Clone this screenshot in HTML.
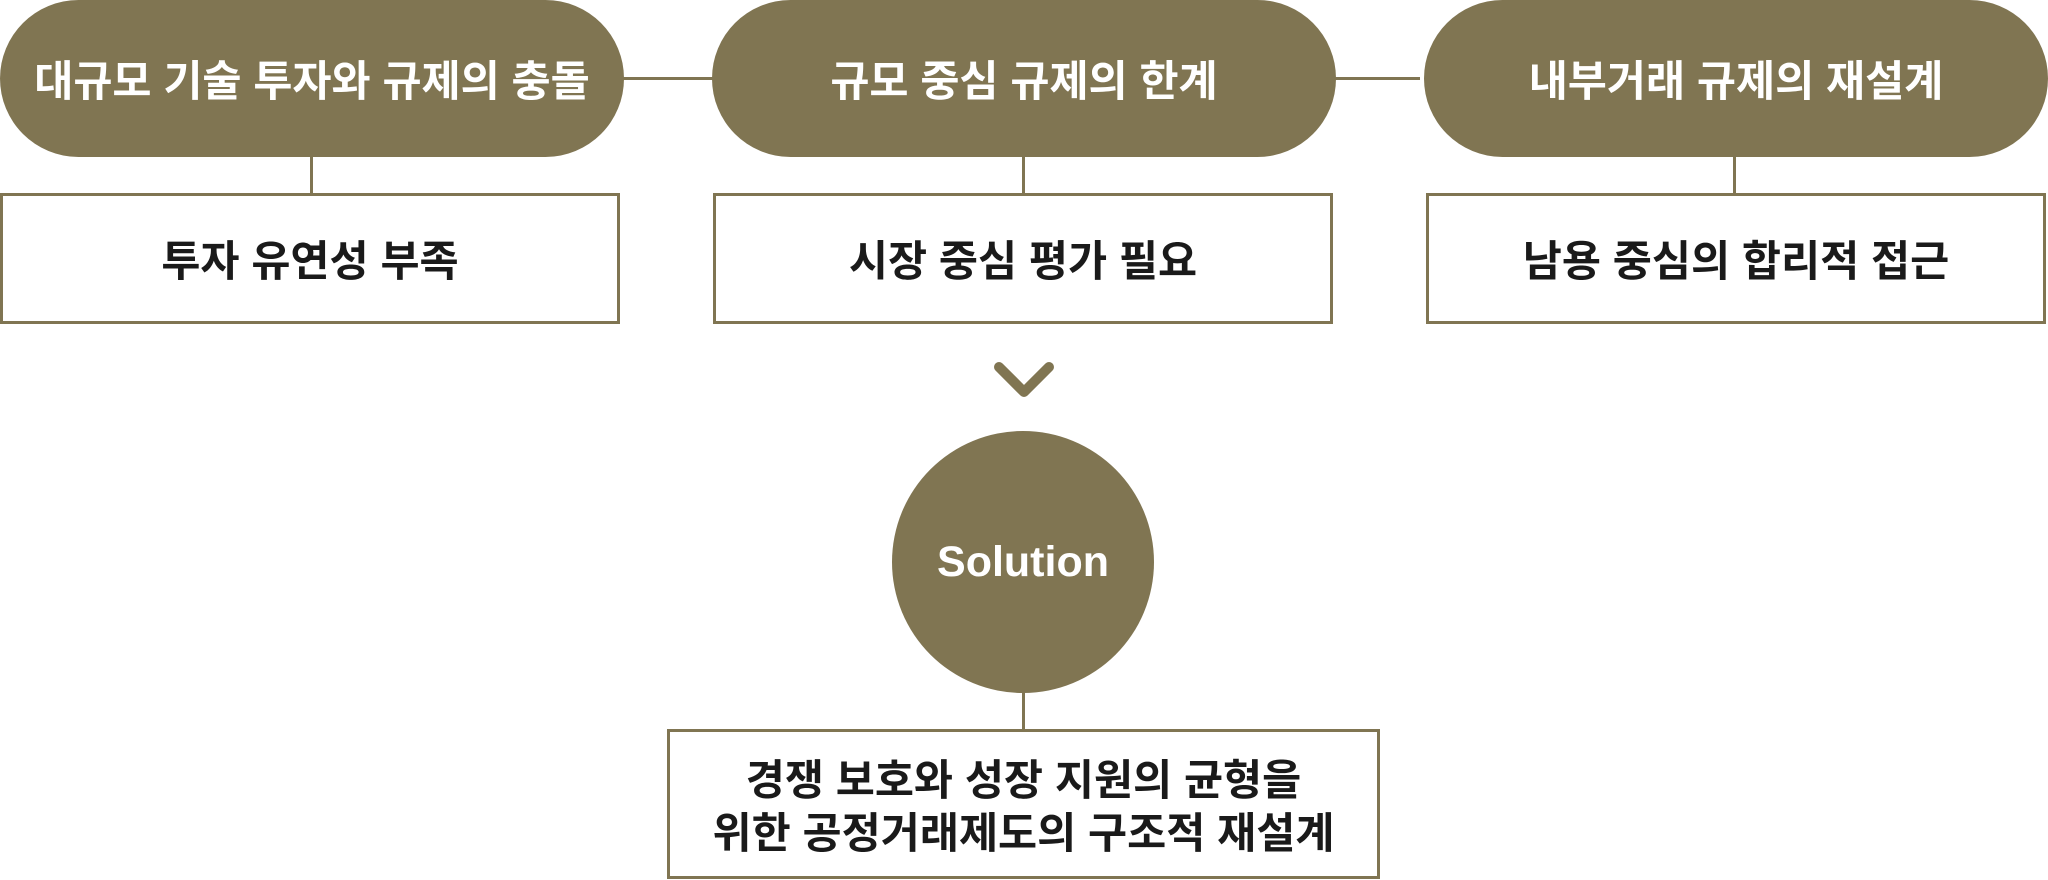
<!DOCTYPE html>
<html><head><meta charset="utf-8"><style>
body{margin:0;width:2048px;height:880px;background:#fff;position:relative;overflow:hidden;font-family:"Liberation Sans","Noto Sans CJK KR",sans-serif;font-weight:bold}
.pill{position:absolute;top:0;height:157px;width:624px;border-radius:79px;background:#807552;color:#fff;font-size:42.5px;display:flex;align-items:center;justify-content:center}
.box{position:absolute;top:193px;height:131px;width:620px;box-sizing:border-box;border:3px solid #807552;background:#fff;color:#1a1a1a;font-size:42.5px;display:flex;align-items:center;justify-content:center}
.l{position:absolute;background:#807552}
</style></head><body>
<div class="l" style="left:620px;top:77px;width:800px;height:3px"></div>
<div class="l" style="left:310px;top:150px;width:3px;height:45px"></div>
<div class="l" style="left:1022px;top:150px;width:3px;height:45px"></div>
<div class="l" style="left:1733px;top:150px;width:3px;height:45px"></div>
<div class="l" style="left:1022px;top:680px;width:3px;height:52px"></div>
<div class="pill" style="left:0">대규모 기술 투자와 규제의 충돌</div>
<div class="pill" style="left:712px">규모 중심 규제의 한계</div>
<div class="pill" style="left:1424px">내부거래 규제의 재설계</div>
<div class="box" style="left:0">투자 유연성 부족</div>
<div class="box" style="left:713px">시장 중심 평가 필요</div>
<div class="box" style="left:1426px">남용 중심의 합리적 접근</div>
<svg style="position:absolute;left:0;top:0" width="2048" height="880"><polyline points="999,367 1024,392 1049,367" fill="none" stroke="#807552" stroke-width="10" stroke-linecap="round" stroke-linejoin="round"/></svg>
<div style="position:absolute;left:892px;top:431px;width:262px;height:262px;border-radius:50%;background:#807552;color:#fff;font-size:43px;display:flex;align-items:center;justify-content:center">Solution</div>
<div class="box" style="left:667px;top:729px;width:713px;height:150px;line-height:53px;padding-top:8px;text-align:center;flex-direction:column;font-size:42.5px">경쟁 보호와 성장 지원의 균형을<br>위한 공정거래제도의 구조적 재설계</div>
</body></html>
